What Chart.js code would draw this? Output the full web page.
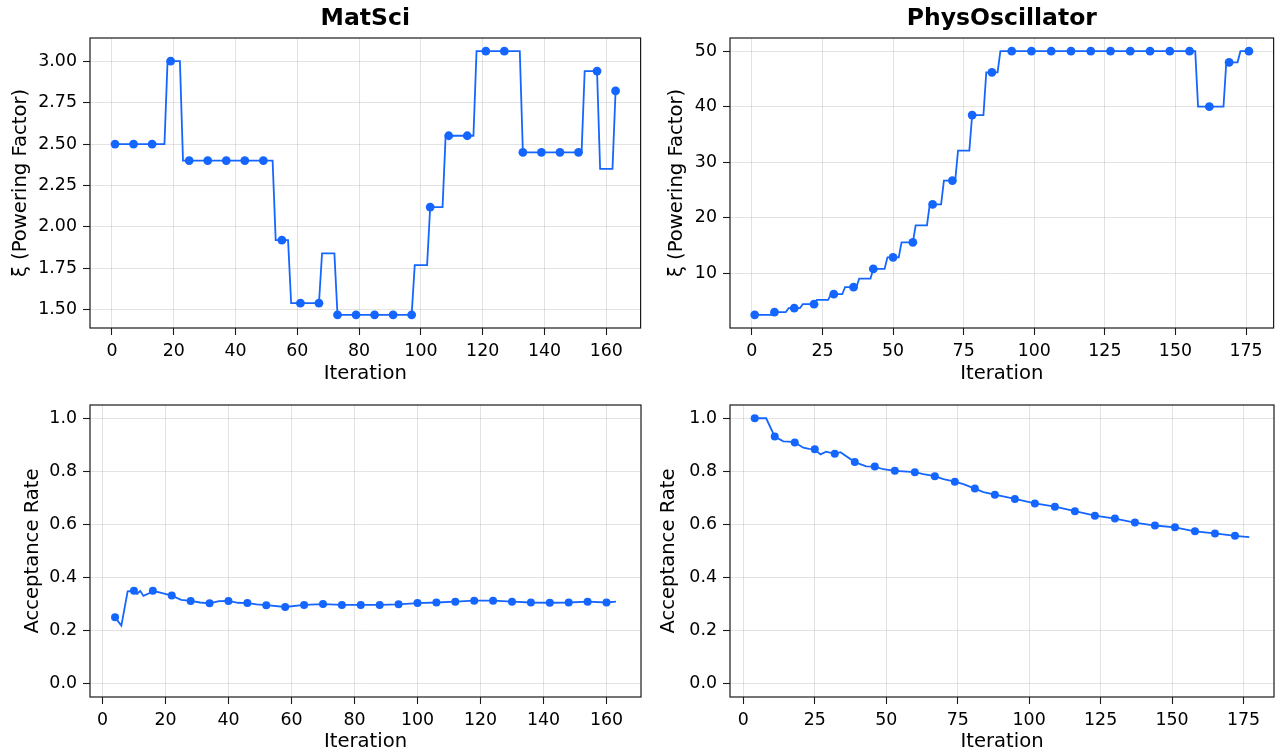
<!DOCTYPE html>
<html lang="en">
<head>
  <meta charset="UTF-8">
  <title>Powering Factor and Acceptance Rate</title>
  <script src="https://cdn.jsdelivr.net/npm/chart.js"></script>
  <style>
    body { margin: 0; background: #fff; overflow: hidden; }
    #wrap { position: relative; width: 1278px; height: 751px; overflow: hidden; }
    canvas { position: absolute; }
  </style>
</head>
<body>
  <div id="wrap">
    <canvas id="matsciXi" width="645" height="386" style="left:0;top:0"></canvas>
    <canvas id="physXi" width="633" height="386" style="left:645px;top:0"></canvas>
    <canvas id="matsciAcc" width="645" height="370" style="left:0;top:386px"></canvas>
    <canvas id="physAcc" width="633" height="370" style="left:645px;top:386px"></canvas>
  </div>

  <script>
    // MatSci: powering factor, held level from each start iteration
    const matsciStepStart = [1, 18, 23, 53, 58, 68, 73, 98, 103, 108, 118, 133, 153, 158, 163];
    const matsciStepLevel = [2.50, 3.00, 2.40, 1.92, 1.54, 1.84, 1.47, 1.77, 2.12, 2.55, 3.06, 2.45, 2.94, 2.35, 2.82];
    const matsciLastIter = 163;
    const matsciMarkIter = [1, 7, 13, 19, 25, 31, 37, 43, 49, 55, 61, 67, 73, 79, 85, 91, 97, 103, 109, 115, 121, 127, 133, 139, 145, 151, 157, 163];
    const matsciMarkXi = [2.50, 2.50, 2.50, 3.00, 2.40, 2.40, 2.40, 2.40, 2.40, 1.92, 1.54, 1.54, 1.47, 1.47, 1.47, 1.47, 1.47, 2.12, 2.55, 2.55, 3.06, 3.06, 2.45, 2.45, 2.45, 2.45, 2.94, 2.82];

    // PhysOscillator: powering factor
    const physStepStart = [1, 8, 13, 18, 23, 28, 33, 38, 43, 48, 53, 58, 63, 68, 73, 78, 83, 88, 158, 168, 173];
    const physStepLevel = [2.52, 3.00, 3.72, 4.43, 5.21, 6.23, 7.49, 9.04, 10.78, 12.87, 15.57, 18.62, 22.4, 26.7, 32.1, 38.5, 46.2, 50.0, 40.0, 48.0, 50.0];
    const physLastIter = 176;
    const physMarkIter = [1, 8, 15, 22, 29, 36, 43, 50, 57, 64, 71, 78, 85, 92, 99, 106, 113, 120, 127, 134, 141, 148, 155, 162, 169, 176];
    const physMarkXi = [2.52, 3.00, 3.72, 4.43, 6.23, 7.49, 10.78, 12.87, 15.57, 22.4, 26.7, 38.5, 46.2, 50, 50, 50, 50, 50, 50, 50, 50, 50, 50, 40, 48, 50];

    // MatSci: acceptance rate
    const matsciAccIter = [4, 6, 8, 10, 11, 12, 13, 15, 16, 19, 22, 25, 28, 31, 34, 37, 40, 43, 46, 49, 52, 58, 64, 70, 76, 82, 88, 94, 100, 106, 112, 118, 124, 130, 136, 142, 148, 154, 160, 163];
    const matsciAcc = [0.250, 0.219, 0.348, 0.350, 0.338, 0.350, 0.331, 0.342, 0.350, 0.341, 0.332, 0.316, 0.312, 0.306, 0.303, 0.311, 0.312, 0.305, 0.304, 0.299, 0.296, 0.289, 0.297, 0.300, 0.297, 0.297, 0.297, 0.299, 0.304, 0.306, 0.309, 0.313, 0.313, 0.309, 0.306, 0.305, 0.306, 0.309, 0.306, 0.309];
    const matsciAccMarkIter = [4, 10, 16, 22, 28, 34, 40, 46, 52, 58, 64, 70, 76, 82, 88, 94, 100, 106, 112, 118, 124, 130, 136, 142, 148, 154, 160];
    const matsciAccMark = [0.250, 0.350, 0.350, 0.332, 0.312, 0.303, 0.312, 0.304, 0.296, 0.289, 0.297, 0.300, 0.297, 0.297, 0.297, 0.299, 0.304, 0.306, 0.309, 0.313, 0.313, 0.309, 0.306, 0.305, 0.306, 0.309, 0.306];

    // PhysOscillator: acceptance rate
    const physAccIter = [4, 8, 11, 14, 16, 18, 21, 23, 25, 27, 29, 32, 34, 39, 43, 46, 49, 53, 56, 60, 63, 67, 70, 74, 77, 81, 84, 88, 95, 102, 109, 116, 123, 130, 137, 144, 151, 158, 165, 172, 177];
    const physAcc = [1.000, 1.000, 0.931, 0.913, 0.912, 0.909, 0.889, 0.885, 0.883, 0.864, 0.874, 0.866, 0.872, 0.835, 0.819, 0.818, 0.808, 0.802, 0.800, 0.797, 0.790, 0.782, 0.771, 0.761, 0.752, 0.735, 0.722, 0.712, 0.696, 0.679, 0.667, 0.650, 0.633, 0.622, 0.607, 0.596, 0.589, 0.574, 0.566, 0.557, 0.552];
    const physAccMarkIter = [4, 11, 18, 25, 32, 39, 46, 53, 60, 67, 74, 81, 88, 95, 102, 109, 116, 123, 130, 137, 144, 151, 158, 165, 172];
    const physAccMark = [1.000, 0.931, 0.909, 0.883, 0.866, 0.835, 0.818, 0.802, 0.797, 0.782, 0.761, 0.735, 0.712, 0.696, 0.679, 0.667, 0.650, 0.633, 0.622, 0.607, 0.596, 0.589, 0.574, 0.566, 0.557];

    // tick labels
    const xTicks20 = [0, 20, 40, 60, 80, 100, 120, 140, 160];
    const xTicks25 = [0, 25, 50, 75, 100, 125, 150, 175];
    const matsciXiTicks = [1.50, 1.75, 2.00, 2.25, 2.50, 2.75, 3.00];
    const physXiTicks = [10, 20, 30, 40, 50];
    const accTicks = [0.0, 0.2, 0.4, 0.6, 0.8, 1.0];

    const BLUE = '#1466ff';
    const FONT = "'DejaVu Sans', sans-serif";
    const tickFont = { family: FONT, size: 17.4 };
    const labelFont = { family: FONT, size: 19.6, lineHeight: 1.2 };

    // each level holds until the iteration before the next one starts
    function stepPoints(starts, levels, last) {
      const pts = [];
      for (let i = 0; i < starts.length; i++) {
        const end = i + 1 < starts.length ? starts[i + 1] - 1 : last;
        pts.push({ x: starts[i], y: levels[i] });
        if (end > starts[i]) pts.push({ x: end, y: levels[i] });
      }
      return pts;
    }

    function pairs(xs, ys) {
      return xs.map((x, i) => ({ x: x, y: ys[i] }));
    }

    // black frame around the plotting area
    const framePlugin = {
      id: 'frame',
      afterDatasetsDraw(chart) {
        const { ctx, chartArea: a } = chart;
        ctx.save();
        ctx.strokeStyle = '#1a1a1a';
        ctx.lineWidth = 1.2;
        ctx.strokeRect(a.left, a.top, a.right - a.left, a.bottom - a.top);
        ctx.restore();
      }
    };

    function makeChart(id, opt) {
      const grid = {
        color: 'rgba(0,0,0,0.11)',
        lineWidth: 1,
        tickColor: '#1a1a1a',
        tickLength: 7,
        tickWidth: 1.1
      };
      const config = {
        type: 'line',
        data: {
          datasets: [
            {
              data: opt.line,
              borderColor: BLUE,
              borderWidth: 1.8,
              pointRadius: 0,
              fill: false,
              tension: 0
            },
            {
              data: opt.marks,
              showLine: false,
              pointRadius: opt.markRadius,
              pointBackgroundColor: BLUE,
              pointBorderWidth: 0
            }
          ]
        },
        options: {
          responsive: false,
          animation: false,
          devicePixelRatio: 1,
          layout: { padding: opt.padding },
          plugins: {
            legend: { display: false },
            tooltip: { enabled: false },
            title: {
              display: !!opt.title,
              text: opt.title,
              fullSize: false,
              color: '#000',
              font: { family: FONT, size: 23.5, weight: 'bold', lineHeight: 1.2 },
              padding: { top: 4.9, bottom: 4.9 }
            }
          },
          scales: {
            x: {
              type: 'linear',
              bounds: 'data',
              min: opt.xMin,
              max: opt.xMax,
              afterBuildTicks: s => { s.ticks = opt.xTicks.map(v => ({ value: v })); },
              afterFit: s => { s.height = opt.xHeight; },
              ticks: { font: tickFont, color: '#000', padding: 6, maxRotation: 0, autoSkip: false, callback: v => String(v) },
              grid: grid,
              border: { display: false },
              title: { display: true, text: 'Iteration', color: '#000', font: labelFont, padding: { top: 0, bottom: opt.xTitlePad } }
            },
            y: {
              type: 'linear',
              bounds: 'data',
              min: opt.yMin,
              max: opt.yMax,
              afterBuildTicks: s => { s.ticks = opt.yTicks.map(v => ({ value: v })); },
              afterFit: s => { s.width = opt.yWidth; },
              ticks: { font: tickFont, color: '#000', padding: 6, autoSkip: false, callback: opt.yFormat },
              grid: grid,
              border: { display: false },
              title: { display: true, text: opt.yTitle, color: '#000', font: labelFont, padding: { top: opt.yTitlePad, bottom: 0 } }
            }
          }
        },
        plugins: [framePlugin]
      };
      return new Chart(document.getElementById(id).getContext('2d'), config);
    }

    makeChart('matsciXi', {
      title: 'MatSci',
      line: stepPoints(matsciStepStart, matsciStepLevel, matsciLastIter),
      marks: pairs(matsciMarkIter, matsciMarkXi),
      markRadius: 4.4,
      xMin: -7.1, xMax: 171.1, xTicks: xTicks20,
      yMin: 1.3905, yMax: 3.1395, yTicks: matsciXiTicks, yFormat: v => v.toFixed(2),
      yTitle: 'ξ (Powering Factor)',
      padding: { top: 0, right: 4, bottom: 0, left: 0 },
      xHeight: 58, xTitlePad: 0, yWidth: 90, yTitlePad: 9
    });

    makeChart('physXi', {
      title: 'PhysOscillator',
      line: stepPoints(physStepStart, physStepLevel, physLastIter),
      marks: pairs(physMarkIter, physMarkXi),
      markRadius: 4.4,
      xMin: -7.75, xMax: 184.75, xTicks: xTicks25,
      yMin: 0.146, yMax: 52.374, yTicks: physXiTicks, yFormat: v => String(v),
      yTitle: 'ξ (Powering Factor)',
      padding: { top: 0, right: 1, bottom: 0, left: 0 },
      xHeight: 58, xTitlePad: 0, yWidth: 85, yTitlePad: 20
    });

    makeChart('matsciAcc', {
      title: '',
      line: pairs(matsciAccIter, matsciAcc),
      marks: pairs(matsciAccMarkIter, matsciAccMark),
      markRadius: 4,
      xMin: -3.95, xMax: 170.95, xTicks: xTicks20,
      yMin: -0.05, yMax: 1.05, yTicks: accTicks, yFormat: v => v.toFixed(1),
      yTitle: 'Acceptance Rate',
      padding: { top: 19, right: 4, bottom: 0, left: 0 },
      xHeight: 59, xTitlePad: 2, yWidth: 90, yTitlePad: 21
    });

    makeChart('physAcc', {
      title: '',
      line: pairs(physAccIter, physAcc),
      marks: pairs(physAccMarkIter, physAccMark),
      markRadius: 4,
      xMin: -4.65, xMax: 185.65, xTicks: xTicks25,
      yMin: -0.05, yMax: 1.05, yTicks: accTicks, yFormat: v => v.toFixed(1),
      yTitle: 'Acceptance Rate',
      padding: { top: 19, right: 1, bottom: 0, left: 0 },
      xHeight: 59, xTitlePad: 2, yWidth: 85, yTitlePad: 12
    });
  </script>
</body>
</html>
